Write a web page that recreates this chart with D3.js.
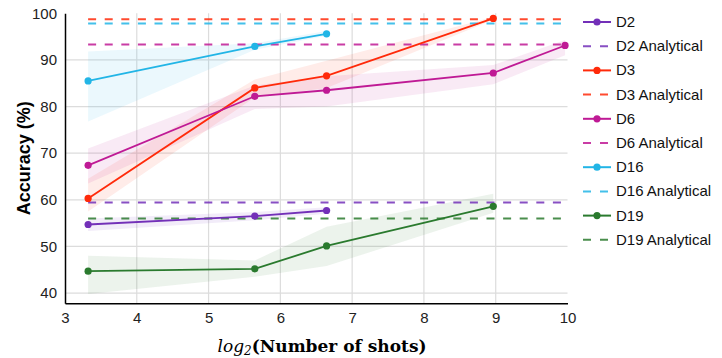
<!DOCTYPE html>
<html>
<head>
<meta charset="utf-8">
<script src="https://cdn.jsdelivr.net/npm/d3@7"></script>
<style>
  body { margin: 0; background: #fff; }
  svg { display: block; }
</style>
</head>
<body>
<div id="chart"></div>
<script>
// log2 of the number of shots (10, 50, 100, 500, 1000)
var shots = [10, 50, 100, 500, 1000];
var xTicks = [3, 4, 5, 6, 7, 8, 9, 10];
var yTicks = [40, 50, 60, 70, 80, 90, 100];

var names = ["D2", "D3", "D6", "D16", "D19"];
var colors = ["#7330b8", "#ff2a0a", "#bf1a95", "#22b5e6", "#2a7a2e"];

// accuracy per dataset, one value per shot count (null = missing)
var d2Acc = [54.7, 56.5, 57.7, null, null];
var d3Acc = [60.3, 84.0, 86.6, 98.9, null];
var d6Acc = [67.4, 82.2, 83.5, 87.2, 93.1];
var d16Acc = [85.5, 92.9, 95.6, null, null];
var d19Acc = [44.7, 45.2, 50.1, 58.6, null];

// shaded band (lower, upper)
var d2Lo = [53.3, 55.6, 57.0, null, null];
var d2Hi = [56.0, 57.4, 58.4, null, null];
var d3Lo = [57.5, 82.0, 84.0, 98.6, null];
var d3Hi = [64.5, 85.8, 89.8, 99.2, null];
var d6Lo = [63.5, 79.5, 80.0, 84.8, 91.0];
var d6Hi = [71.0, 84.5, 86.5, 88.9, 94.3];
var d16Lo = [76.8, 92.2, 95.2, null, null];
var d16Hi = [91.8, 93.6, 96.2, null, null];
var d19Lo = [39.8, 43.5, 45.8, 57.2, null];
var d19Hi = [48.0, 47.0, 54.2, 61.3, null];

// analytical reference levels
var analytical = [59.4, 98.7, 93.3, 97.8, 56.0];

var accs = [d2Acc, d3Acc, d6Acc, d16Acc, d19Acc];
var los = [d2Lo, d3Lo, d6Lo, d16Lo, d19Lo];
var his = [d2Hi, d3Hi, d6Hi, d16Hi, d19Hi];

var W = 722, H = 358;
var svg = d3.select("#chart").append("svg").attr("width", W).attr("height", H);

var x = d3.scaleLinear().domain([3, 10]).range([65, 567.5]);
var y = d3.scaleLinear().domain([37.8, 100]).range([303.3, 13.3]);

var logShots = shots.map(function (s) { return Math.log2(s); });

// grid
var grid = svg.append("g");
grid.selectAll("line.h").data(yTicks.filter(function (t) { return t < 100; }))
    .enter().append("line")
    .attr("x1", x(3)).attr("x2", x(10))
    .attr("y1", function (d) { return y(d); }).attr("y2", function (d) { return y(d); })
    .attr("stroke", "#dcdcdc").attr("stroke-width", 1.2);
grid.selectAll("line.v").data(xTicks.filter(function (t) { return t > 3 && t < 10; }))
    .enter().append("line")
    .attr("x1", function (d) { return x(d); }).attr("x2", function (d) { return x(d); })
    .attr("y1", y(100)).attr("y2", y(37.8))
    .attr("stroke", "#dcdcdc").attr("stroke-width", 1.2);

// bands
var area = d3.area()
    .defined(function (d) { return d.lo != null; })
    .x(function (d) { return x(d.x); })
    .y0(function (d) { return y(d.lo); })
    .y1(function (d) { return y(d.hi); });

names.forEach(function (n, i) {
    var pts = logShots.map(function (lx, j) { return { x: lx, lo: los[i][j], hi: his[i][j] }; });
    svg.append("path").datum(pts)
        .attr("d", area)
        .attr("fill", colors[i]).attr("fill-opacity", 0.09);
});

// analytical dashed lines
names.forEach(function (n, i) {
    svg.append("line")
        .attr("x1", x(logShots[0])).attr("x2", x(logShots[4]))
        .attr("y1", y(analytical[i])).attr("y2", y(analytical[i]))
        .attr("stroke", colors[i]).attr("stroke-opacity", 0.85)
        .attr("stroke-width", 2).attr("stroke-dasharray", "8,8.6");
});

// lines and markers
var line = d3.line()
    .defined(function (d) { return d.v != null; })
    .x(function (d) { return x(d.x); })
    .y(function (d) { return y(d.v); });

names.forEach(function (n, i) {
    var pts = logShots.map(function (lx, j) { return { x: lx, v: accs[i][j] }; });
    svg.append("path").datum(pts)
        .attr("d", line)
        .attr("fill", "none").attr("stroke", colors[i]).attr("stroke-width", 1.8);
    svg.append("g").selectAll("circle")
        .data(pts.filter(function (d) { return d.v != null; }))
        .enter().append("circle")
        .attr("cx", function (d) { return x(d.x); })
        .attr("cy", function (d) { return y(d.v); })
        .attr("r", 3.6)
        .attr("fill", colors[i]);
});

// axes
var font = "'Liberation Sans', Arial, sans-serif";
var yAxis = svg.append("g")
    .attr("transform", "translate(" + x(3) + ",0)")
    .call(d3.axisLeft(y).tickValues(yTicks).tickFormat(d3.format("d")).tickSize(0).tickPadding(8));
yAxis.select(".domain").attr("stroke", "#000").attr("stroke-width", 1.5);
yAxis.selectAll("text").attr("font-family", font).attr("font-size", 15).attr("fill", "#222");

var xAxis = svg.append("g")
    .attr("transform", "translate(0," + y(37.8) + ")")
    .call(d3.axisBottom(x).tickValues(xTicks).tickFormat(d3.format("d")).tickSize(0).tickPadding(9));
xAxis.select(".domain").attr("stroke", "#000").attr("stroke-width", 1.5);
xAxis.selectAll("text").attr("font-family", font).attr("font-size", 15).attr("fill", "#222");

// axis labels
svg.append("text")
    .attr("transform", "translate(30," + ((y(100) + y(37.8)) / 2) + ") rotate(-90)")
    .attr("text-anchor", "middle")
    .attr("font-family", font).attr("font-size", 18).attr("font-weight", "bold")
    .text("Accuracy (%)");

var xl = svg.append("text")
    .attr("x", 322).attr("y", 352)
    .attr("text-anchor", "middle")
    .attr("font-family", "'DejaVu Serif', 'Liberation Serif', serif")
    .attr("font-size", 17);
xl.append("tspan").attr("font-style", "italic").text("log");
xl.append("tspan").attr("font-style", "italic").attr("font-size", 12).attr("dy", 3).text("2");
xl.append("tspan").attr("font-weight", "bold").attr("dy", -3).text("(Number of shots)");

// legend
var legend = svg.append("g");
var rowH = 24.2;
names.forEach(function (n, i) {
    var y0 = 22 + rowH * 2 * i;
    legend.append("line")
        .attr("x1", 583).attr("x2", 611).attr("y1", y0).attr("y2", y0)
        .attr("stroke", colors[i]).attr("stroke-width", 2);
    legend.append("circle").attr("cx", 597).attr("cy", y0).attr("r", 3.6).attr("fill", colors[i]);
    legend.append("text").attr("x", 616).attr("y", y0 + 5)
        .attr("font-family", font).attr("font-size", 15).attr("fill", "#111").text(n);

    var y1 = y0 + rowH;
    legend.append("line")
        .attr("x1", 583).attr("x2", 611).attr("y1", y1).attr("y2", y1)
        .attr("stroke", colors[i]).attr("stroke-opacity", 0.85).attr("stroke-width", 2)
        .attr("stroke-dasharray", "8,9");
    legend.append("text").attr("x", 616).attr("y", y1 + 5)
        .attr("font-family", font).attr("font-size", 15).attr("fill", "#111").text(n + " Analytical");
});
</script>
</body>
</html>
